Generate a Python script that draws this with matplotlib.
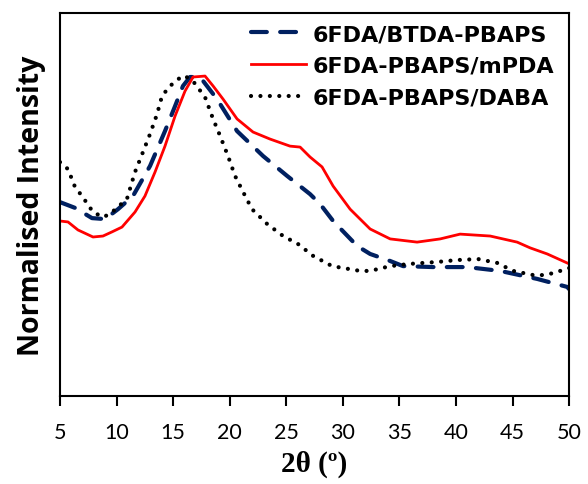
import matplotlib
matplotlib.use("Agg")
import matplotlib.pyplot as plt

# 2-theta (deg) and normalised intensity for each sample
x_btda = [5.00, 6.33, 7.83, 8.98, 10.13, 11.45, 12.96, 14.28, 15.17, 15.87, 16.49, 17.38,
          18.88, 20.65, 22.95, 25.07, 27.10, 27.99, 29.14, 31.26, 32.41, 34.18, 35.32,
          37.98, 40.98, 43.90, 47.17, 49.82, 50.0]
y_btda = [0.606, 0.588, 0.556, 0.553, 0.584, 0.625, 0.719, 0.828, 0.906, 0.969, 0.997, 0.997,
          0.928, 0.828, 0.750, 0.688, 0.631, 0.600, 0.547, 0.469, 0.444, 0.422, 0.406,
          0.403, 0.403, 0.391, 0.366, 0.341, 0.334]

x_mpda = [5.00, 5.71, 6.59, 7.92, 8.80, 9.60, 10.48, 11.63, 12.51, 13.40, 14.28, 15.17,
          16.05, 16.76, 17.82, 18.53, 19.41, 20.65, 22.06, 23.57, 25.33, 26.22, 27.10,
          28.16, 29.14, 30.64, 32.41, 34.18, 36.56, 38.60, 40.36, 43.02, 45.40, 46.55,
          48.06, 50.0]
y_mpda = [0.547, 0.544, 0.519, 0.497, 0.500, 0.513, 0.528, 0.575, 0.625, 0.700, 0.781, 0.875,
          0.953, 0.997, 1.000, 0.969, 0.928, 0.866, 0.825, 0.803, 0.781, 0.778, 0.747,
          0.716, 0.656, 0.584, 0.522, 0.491, 0.481, 0.491, 0.506, 0.500, 0.481, 0.463,
          0.444, 0.413]

x_daba = [5.00, 5.71, 6.33, 6.95, 7.92, 8.80, 9.42, 10.13, 10.92, 11.63, 12.34, 12.96,
          13.58, 14.02, 14.73, 15.79, 16.05, 16.76, 17.82, 18.53, 19.15, 19.85, 20.47,
          21.18, 21.97, 23.30, 24.72, 26.04, 27.37, 29.05, 31.52, 32.41, 34.18, 35.94,
          38.33, 40.10, 41.96, 43.63, 45.05, 46.82, 47.70, 48.59, 49.47, 50.0]
y_daba = [0.731, 0.709, 0.653, 0.625, 0.575, 0.559, 0.569, 0.591, 0.616, 0.700, 0.763, 0.819,
          0.881, 0.938, 0.969, 1.000, 1.000, 0.984, 0.934, 0.866, 0.813, 0.750, 0.688,
          0.638, 0.584, 0.538, 0.500, 0.475, 0.438, 0.406, 0.391, 0.391, 0.406, 0.413,
          0.419, 0.425, 0.428, 0.416, 0.391, 0.378, 0.378, 0.384, 0.394, 0.400]

labels = ["6FDA/BTDA-PBAPS", "6FDA-PBAPS/mPDA", "6FDA-PBAPS/DABA"]
x_ticks = [5, 10, 15, 20, 25, 30, 35, 40, 45, 50]

fig = plt.figure(figsize=(5.88, 4.85), dpi=100)
ax = fig.add_axes([0.102, 0.1814, 0.866, 0.7897])

ax.plot(x_btda, y_btda, color="#002060", lw=3.0, linestyle=(0, (3.8, 3.2)),
        dash_capstyle="round", label=labels[0])
ax.plot(x_mpda, y_mpda, color="#FF0000", lw=2.0, label=labels[1])
ax.plot(x_daba, y_daba, color="black", lw=3.0, linestyle=(0, (0.01, 2.25)),
        dash_capstyle="round", label=labels[2])

ax.set_xlim(5, 50)
ax.set_ylim(0, 1.197)
ax.set_xticks(x_ticks)
ax.set_yticks([])
ax.tick_params(axis="x", direction="out", length=7, width=1.5, labelsize=15.5, pad=12)
for lab in ax.get_xticklabels():
    lab.set_fontfamily("Lato")
for s in ax.spines.values():
    s.set_linewidth(1.5)
    s.set_color("black")

ax.set_ylabel("Normalised Intensity", fontsize=20.5, fontweight="bold", family="Open Sans", labelpad=10)
ax.set_xlabel("2θ (º)", fontsize=21, fontweight="bold", family="Liberation Serif", labelpad=5)

leg = ax.legend(loc="upper right", bbox_to_anchor=(0.993, 1.0), frameon=False,
                prop={"family": "DejaVu Sans", "weight": "bold", "size": 16},
                handlelength=2.5, handletextpad=0.3, labelspacing=0.53,
                borderaxespad=0.1)

fig.savefig("out.png", dpi=100)
